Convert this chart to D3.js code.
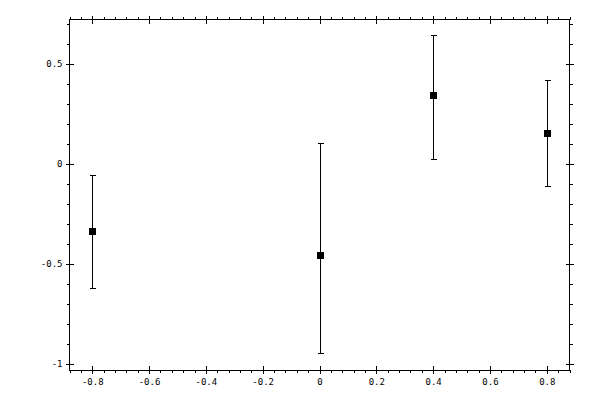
<!DOCTYPE html>
<html>
<head>
<meta charset="utf-8">
<script src="https://cdn.jsdelivr.net/npm/d3@7"></script>
<style>
  body { margin: 0; background: #fff; }
  svg text { font-family: "DejaVu Sans Mono", monospace; font-size: 9px; fill: #000; }
</style>
</head>
<body>
<div id="chart"></div>
<script>
// data
var xVals   = [-0.8, 0, 0.4, 0.8];
var yVals   = [-0.336, -0.457, 0.341, 0.152];
var yLow    = [-0.62, -0.945, 0.022, -0.113];
var yHigh   = [-0.058, 0.102, 0.643, 0.416];
var xTicks  = [-0.8, -0.6, -0.4, -0.2, 0, 0.2, 0.4, 0.6, 0.8];
var yTicks  = [-1, -0.5, 0, 0.5];

var W = 600, H = 400;
// plot box edges (window.top is reserved, so use other names)
var pLeft = 69.5, pRight = 569.5, pTop = 19.5, pBottom = 370;

var svg = d3.select("#chart").append("svg")
   .attr("width", W)
   .attr("height", H)
   .attr("shape-rendering", "crispEdges");

var x = d3.scaleLinear().domain([-0.88, 0.88]).range([pLeft, pRight]);
var y = d3.scaleLinear().domain([-1.03, 0.72]).range([pBottom, pTop]);

// minor ticks every 0.04 on x, 0.1 on y
var xMinor = d3.range(-22, 23).map(function(i) { return +(i * 0.04).toFixed(2); })
   .filter(function(d) { return xTicks.indexOf(d) < 0; });
var yMinor = d3.range(-10, 8).map(function(i) { return +(i * 0.1).toFixed(1); })
   .filter(function(d) { return yTicks.indexOf(d) < 0; });

function fmt(d) { return String(d); }

// one side: minor ticks outward, major ticks crossing the line
function side(axisFn, scale, pos, labels, outSign) {
   var isX = (scale === x);
   var g = svg.append("g").attr("transform", pos);
   var mn = g.append("g").call(axisFn(scale).tickValues(isX ? xMinor : yMinor)
      .tickSize(3).tickFormat(""));
   mn.select(".domain").remove();
   mn.selectAll("text").remove();
   var maj = g.append("g").call(axisFn(scale).tickValues(isX ? xTicks : yTicks)
      .tickSize(4).tickFormat(labels ? fmt : ""));
   maj.select(".domain").remove();
   if (isX) maj.selectAll(".tick line").attr("y1", -4).attr("y2", 4);
   else maj.selectAll(".tick line").attr("x1", -4).attr("x2", 4);
   if (!labels) maj.selectAll("text").remove();
   g.selectAll("line").attr("stroke", "#000");
   return maj;
}

var bx = side(d3.axisBottom, x, "translate(0," + pBottom + ")", true, 1);
bx.selectAll("text").attr("y", 8).attr("dy", "0.75em");
side(d3.axisTop, x, "translate(0," + pTop + ")", false, -1);
var ly = side(d3.axisLeft, y, "translate(" + pLeft + ",0)", true, -1);
ly.selectAll("text").attr("x", -7);
side(d3.axisRight, y, "translate(" + pRight + ",0)", false, 1);

// frame
svg.append("rect")
   .attr("x", pLeft).attr("y", pTop)
   .attr("width", pRight - pLeft).attr("height", pBottom - pTop)
   .attr("fill", "none").attr("stroke", "#000");

// error bars
var pts = xVals.map(function(d, i) {
   return { x: d, y: yVals[i], lo: yLow[i], hi: yHigh[i] };
});
var eg = svg.append("g").attr("stroke", "#000");
eg.selectAll(".bar").data(pts).enter().append("line")
   .attr("x1", function(d) { return Math.round(x(d.x)) + 0.5; })
   .attr("x2", function(d) { return Math.round(x(d.x)) + 0.5; })
   .attr("y1", function(d) { return y(d.lo); })
   .attr("y2", function(d) { return y(d.hi); });
["lo", "hi"].forEach(function(k) {
   eg.selectAll(".cap-" + k).data(pts).enter().append("line")
      .attr("x1", function(d) { return Math.round(x(d.x)) - 2.5; })
      .attr("x2", function(d) { return Math.round(x(d.x)) + 3.5; })
      .attr("y1", function(d) { return Math.round(y(d[k])) + 0.5; })
      .attr("y2", function(d) { return Math.round(y(d[k])) + 0.5; });
});

// markers
svg.append("g").selectAll("rect").data(pts).enter().append("rect")
   .attr("x", function(d) { return Math.round(x(d.x)) - 3; })
   .attr("y", function(d) { return Math.round(y(d.y)) - 3; })
   .attr("width", 7).attr("height", 7)
   .attr("fill", "#000");
</script>
</body>
</html>
